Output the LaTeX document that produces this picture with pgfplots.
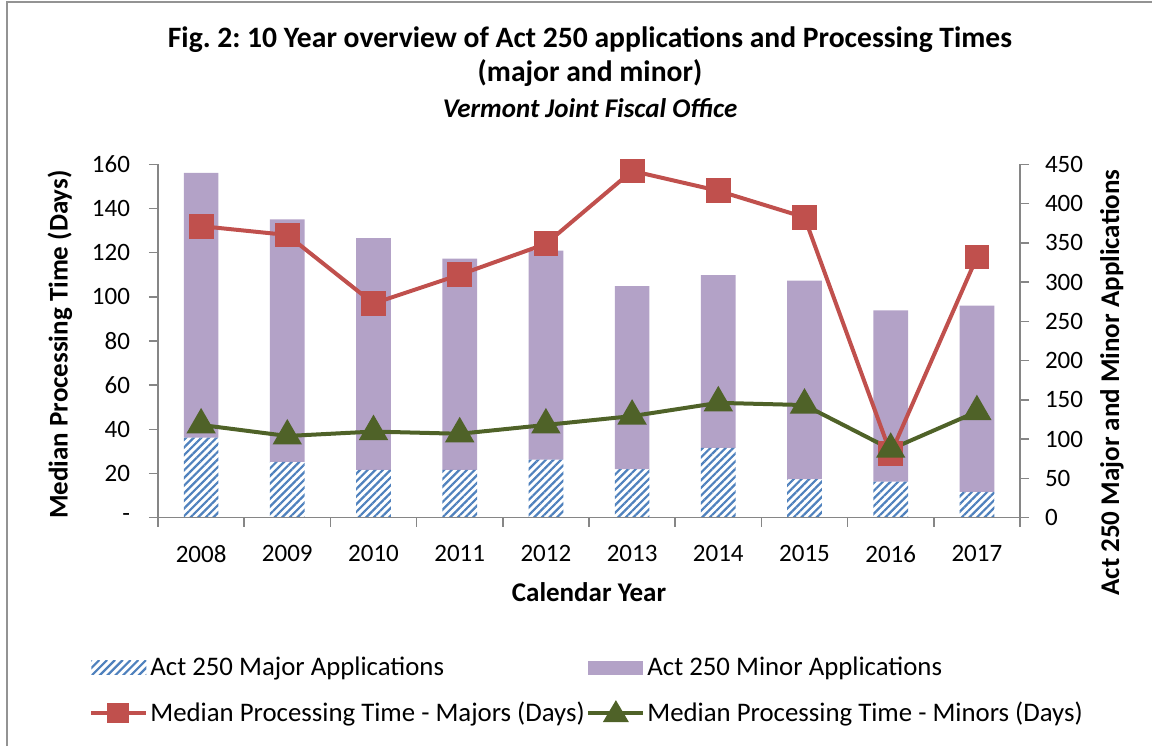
\documentclass[border=0pt]{standalone}
\usepackage{fontspec}
\setmainfont{Carlito}
\usepackage{pgfplots}
\usepackage{pgfplotstable}
\pgfplotsset{compat=1.18}
\usetikzlibrary{patterns.meta}
\frenchspacing

\definecolor{majblue}{RGB}{79,129,189}
\definecolor{minpurple}{RGB}{179,162,199}
\definecolor{medred}{RGB}{192,80,77}
\definecolor{medgreen}{RGB}{79,98,40}
\definecolor{axgray}{RGB}{134,134,134}

% x = category index (2008..2017), applications and median days
\pgfplotstableread{
x year major minor red green
0 2008 102 337 132 42
1 2009 71 309 128 37
2 2010 61 295 97 39
3 2011 61 269 110 38
4 2012 74 266 124 42
5 2013 62 233 157 46
6 2014 89 220 148 52
7 2015 49 253 136 51
8 2016 46 218 29 31
9 2017 33 237 118 48
}\data

\pgfplotsset{
  base/.style={
    scale only axis, width=431pt, height=176.7pt,
    at={(79pt,114.15pt)}, anchor=south west,
    xmin=-0.5, xmax=9.5, clip=false,
    tick align=outside, major tick length=4.5pt,
    axis line style={axgray, line width=0.75pt},
    tick style={axgray, line width=0.75pt},
    ticklabel style={font=\fontsize{12.5}{15}\selectfont},
    label style={font=\fontsize{13.5}{16}\selectfont\bfseries},
    /pgf/number format/assume math mode=true,
  },
}

\begin{document}
\begin{tikzpicture}
\useasboundingbox (0pt,0pt) rectangle (576pt,373pt);
\draw[gray!85, line width=1pt] (3.5pt,0pt) -- (3.5pt,372pt) -- (576pt,372pt);

\node[font=\fontsize{14.8}{17}\selectfont\bfseries] at (295pt,353pt) {Fig. 2: 10 Year overview of Act 250 applications and Processing Times};
\node[font=\fontsize{14.8}{17}\selectfont\bfseries] at (295pt,336.5pt) {(major and minor)};
\node[font=\fontsize{13.5}{16}\selectfont\bfseries\itshape] at (295pt,319pt) {Vermont Joint Fiscal Office};

% applications, right axis
\begin{axis}[base,
  axis y line*=right, axis x line=none,
  ymin=0, ymax=450, ytick={0,50,...,450},
  yticklabel style={xshift=4.5pt},
  ybar stacked, bar width=17.35pt,
  ylabel={Act 250 Major and Minor Applications},
  ylabel style={at={(axis description cs:1.1067,0.3826)}, anchor=center, rotate=0},
]
\addplot[draw=none, pattern={Lines[angle=45,distance=2.7pt,line width=1.1pt]}, pattern color=majblue] table[x=x,y=major]{\data};
\addplot[draw=none, fill=minpurple] table[x=x,y=minor]{\data};
\end{axis}

% median processing times, left axis
\begin{axis}[base,
  axis x line*=bottom, axis y line*=left,
  ymin=0, ymax=160, ytick={0,20,...,160},
  yticklabels={-,20,40,60,80,100,120,140,160},
  yticklabel style={xshift=-6pt},
  xtick={0,...,9},
  xticklabels={2008,2009,2010,2011,2012,2013,2014,2015,2016,2017},
  xticklabel style={yshift=-6pt},
  major x tick style={draw=none},
  minor xtick={-0.5,0.5,...,9.5}, minor tick length=4.5pt,
  xlabel={Calendar Year},
  xlabel style={at={(axis description cs:0.5,-0.2102)}, anchor=center},
  ylabel={Median Processing Time (Days)},
  ylabel style={at={(axis description cs:-0.1137,0.49)}, anchor=center},
  legend columns=2,
  legend cell align=left,
  legend style={at={(axis description cs:-0.087,-0.3765)}, anchor=north west,
    draw=none, fill=none, font=\fontsize{13.4}{16}\selectfont,
    nodes={inner sep=1pt}, row sep=9.5pt},
]
\addlegendimage{draw=none, legend image code/.code={
  \begin{scope}
  \clip (0pt,-3.5pt) rectangle (27.5pt,3.5pt);
  \foreach \k in {-2,...,8} {\draw[majblue, line width=1.1pt] (\k*3.9pt-4pt,-4pt) -- (\k*3.9pt+4pt,4pt);}
  \end{scope}}}
\addlegendentry{\makebox[217pt][l]{Act 250 Major Applications}}
\addlegendimage{draw=none, legend image code/.code={\path[fill=minpurple, draw=none] (0pt,-3.5pt) rectangle (27.5pt,3.5pt);}}
\addlegendentry{Act 250 Minor Applications}
\addplot[medred, line width=2pt, mark=square*, mark size=5.2pt,
  legend image code/.code={\draw[medred,line width=2pt] (0pt,0pt) -- (27.5pt,0pt); \fill[medred] (9pt,-4pt) rectangle (18pt,4pt);}]
  table[x=x,y=red]{\data};
\addlegendentry{\makebox[217pt][l]{Median Processing Time - Majors (Days)}}
\addplot[medgreen, line width=2pt, mark=triangle*, mark size=6.5pt,
  legend image code/.code={\draw[medgreen,line width=2pt] (0pt,0pt) -- (27.5pt,0pt); \fill[medgreen] (13.75pt,4.5pt) -- (9pt,-3.5pt) -- (18.5pt,-3.5pt) -- cycle;}]
  table[x=x,y=green]{\data};
\addlegendentry{Median Processing Time - Minors (Days)}
\end{axis}
\end{tikzpicture}
\end{document}
